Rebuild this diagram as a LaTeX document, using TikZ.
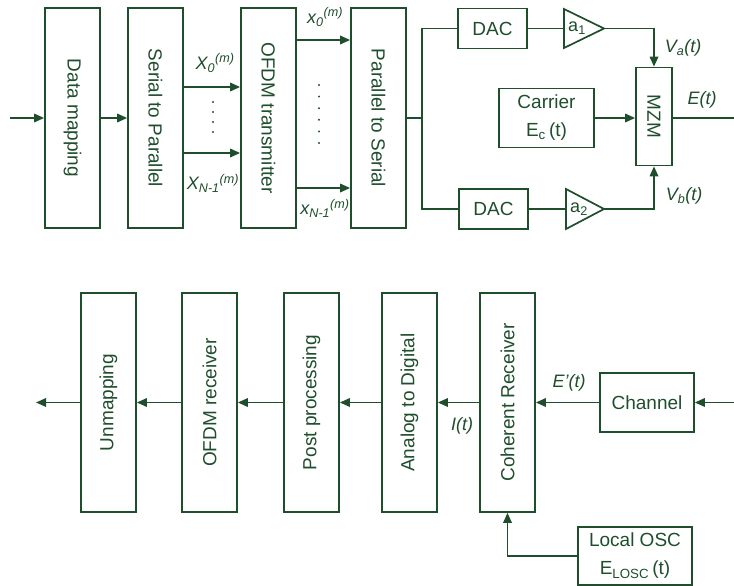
\documentclass[tikz,border=0pt]{standalone}
\usepackage{fontspec}
\setmainfont{Liberation Sans}
\usetikzlibrary{arrows.meta}
\definecolor{dg}{RGB}{30,78,44}
\begin{document}
\begin{tikzpicture}[x=1pt,y=-1pt,
  blk/.style={draw=dg, line width=1.7pt, minimum width=55pt, minimum height=220pt, inner sep=0pt, text=dg, font=\fontsize{19}{22}\selectfont},
  sbox/.style={draw=dg, line width=1.7pt, inner sep=0pt, text=dg, font=\fontsize{19}{22}\selectfont, align=center},
  lbl/.style={text=dg, font=\fontsize{18}{20}\selectfont\itshape, inner sep=0pt},
  ln/.style={draw=dg, line width=1.7pt},
  arr/.style={draw=dg, line width=1.7pt, -{Triangle[length=10pt,width=8.5pt]}}
]
\useasboundingbox (0,0) rectangle (734,586);
% top row
\node[blk] (dm) at (72.5,118) {\rotatebox{-90}{Data mapping}};
\node[blk] (sp) at (155.5,118) {\rotatebox{-90}{Serial to Parallel}};
\node[blk] (ofdm) at (268.5,118) {\rotatebox{-90}{OFDM transmitter}};
\node[blk] (ps) at (378.5,118) {\rotatebox{-90}{Parallel to Serial}};
\node[sbox, minimum width=69pt, minimum height=40pt] (dac1) at (492.5,28.5) {DAC};
\node[sbox, minimum width=69pt, minimum height=40pt] (dac2) at (493.5,209) {DAC};
\node[sbox, minimum width=36pt, minimum height=98pt] (mzm) at (654,116.5) {\rotatebox{-90}{MZM}};
\node[sbox, minimum width=95pt, minimum height=59pt] (car) at (546.5,118) {Carrier\\[6pt]E\textsubscript{c}\,(t)};
% amplifiers
\draw[ln, line join=miter] (564,9) -- (564,48) -- (604,28.5) -- cycle;
\node[text=dg, font=\fontsize{18}{20}\selectfont] (a1) at (577,28.5) {a\textsubscript{1}};
\draw[ln, line join=miter] (566,189) -- (566,229) -- (604,209) -- cycle;
\node[text=dg, font=\fontsize{18}{20}\selectfont] (a2) at (579,209) {a\textsubscript{2}};
\coordinate (a1in) at (564,28.5);
\coordinate (a1out) at (604,28.5);
\coordinate (a2in) at (566,209);
\coordinate (a2out) at (604,209);
% top connectors
\coordinate (in) at (10,118);
\draw[arr] (in) -- (dm.west);
\draw[arr] (dm.east) -- (sp.west);
\draw[arr] (sp.east |- 0,87) -- (ofdm.west |- 0,87);
\draw[arr] (sp.east |- 0,153) -- (ofdm.west |- 0,153);
\draw[arr] (ofdm.east |- 0,40) -- (ps.west |- 0,40);
\draw[arr] (ofdm.east |- 0,188) -- (ps.west |- 0,188);
\foreach \i in {0,...,3} \fill[dg] (213,102+10*\i) circle (1.1pt);
\foreach \i in {0,...,5} \fill[dg] (319,85+11.6*\i) circle (1.1pt);
\coordinate (j) at (422,118);
\draw[ln] (ps.east) -- (j);
\draw[ln] (dac1.west) -| (j) |- (dac2.west);
\draw[ln] (dac1.east) -- (a1in);
\draw[ln] (dac2.east) -- (a2in);
\draw[arr] (a1out) -| (mzm.north);
\draw[arr] (a2out) -| (mzm.south);
\draw[arr] (car.east) -- (car.east -| mzm.west);
\coordinate (eout) at (734,118);
\draw[ln] (mzm.east |- eout) -- (eout);
% top labels
\node[lbl] (lX0) at (215,63) {X\textsubscript{0}\textsuperscript{(m)}};
\node[lbl] (lXN) at (213,183) {X\textsubscript{N-1}\textsuperscript{(m)}};
\node[lbl] (lx0) at (325,17) {x\textsubscript{0}\textsuperscript{(m)}};
\node[lbl] (lxN) at (325,208) {x\textsubscript{N-1}\textsuperscript{(m)}};
\node[lbl] (lVa) at (683,48) {V\textsubscript{a}(t)};
\node[lbl] (lVb) at (684,196) {V\textsubscript{b}(t)};
\node[lbl] (lE) at (702,100) {E(t)};
% bottom row
\node[blk, minimum height=219pt] (unmap) at (108.5,402.5) {\rotatebox{90}{Unmapping}};
\node[blk, minimum height=219pt] (ofdmr) at (209.5,402.5) {\rotatebox{90}{OFDM receiver}};
\node[blk, minimum height=219pt] (post) at (311.5,402.5) {\rotatebox{90}{Post processing}};
\node[blk, minimum height=219pt] (adc) at (409.5,402.5) {\rotatebox{90}{Analog to Digital}};
\node[blk, minimum height=219pt] (coh) at (507.5,402.5) {\rotatebox{90}{Coherent Receiver}};
\node[sbox, minimum width=94pt, minimum height=59pt] (ch) at (647,402.5) {Channel};
\node[sbox, minimum width=114pt, minimum height=58pt] (losc) at (635,556) {Local OSC\\[6pt]E\textsubscript{LOSC}\,(t)};
\coordinate (bin) at (734,402.5);
\coordinate (bout) at (36,402.5);
\draw[arr] (bin) -- (ch.east);
\draw[arr] (ch.west) -- (coh.east);
\draw[arr] (coh.west) -- (adc.east);
\draw[arr] (adc.west) -- (post.east);
\draw[arr] (post.west) -- (ofdmr.east);
\draw[arr] (ofdmr.west) -- (unmap.east);
\draw[arr] (unmap.west) -- (bout);
\draw[arr] (losc.west) -| (coh.south);
\node[lbl] (lEp) at (569,383) {E’(t)};
\node[lbl] (lI) at (462,426) {I(t)};
\end{tikzpicture}
\end{document}
